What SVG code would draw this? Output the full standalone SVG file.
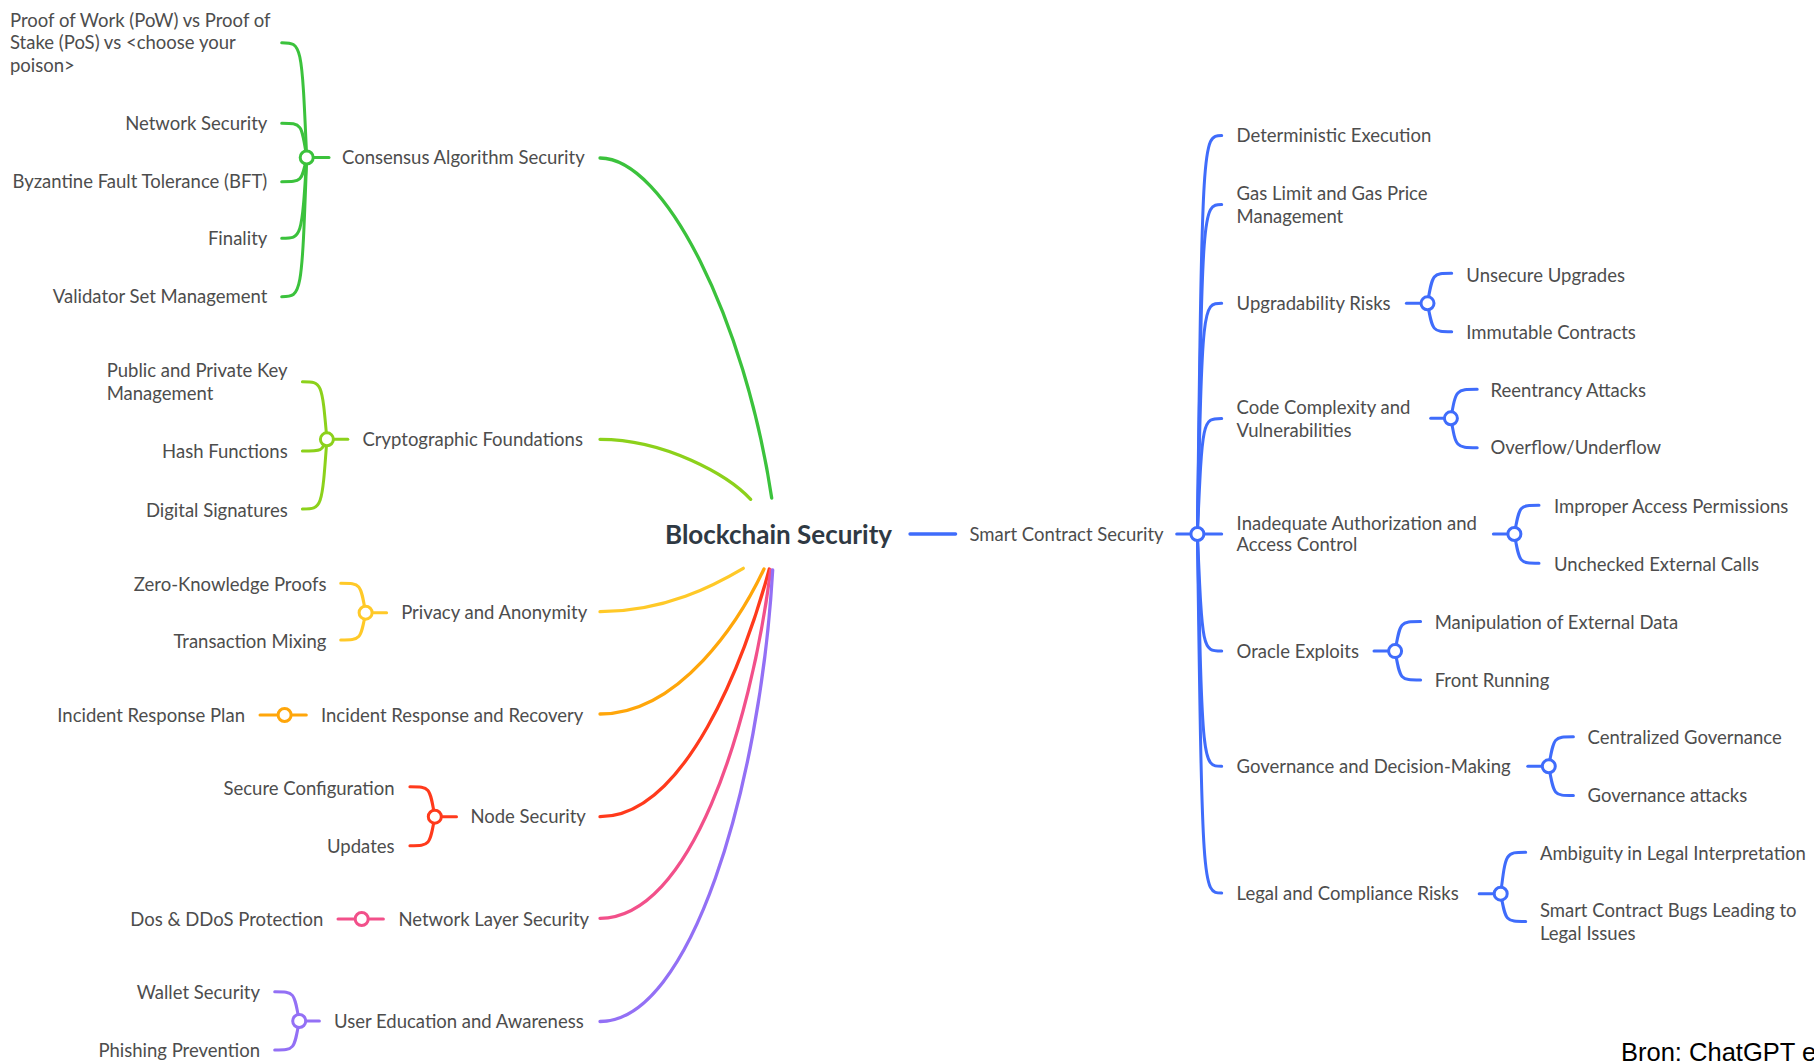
<svg xmlns="http://www.w3.org/2000/svg" width="1814" height="1062" viewBox="0 0 1814 1062">
<style>
  text { font-family: Lato, "Noto Sans", "DejaVu Sans", sans-serif; font-size: 18.5px; fill: #4d4d4d; }
  .end { text-anchor: end; }
  .root { font-size: 26px; font-weight: bold; fill: #2f3943; }
  .src { font-family: "Liberation Sans", Arial, sans-serif; font-size: 25.5px; fill: #000; }
  path, line { fill: none; stroke-linecap: round; stroke-width: 3; }
  .main { stroke-width: 3.3; }
  circle.hub { fill: #fff; stroke-width: 3; }
  .g1 { stroke: #3bc23c; } .g2 { stroke: #8cd11b; } .g3 { stroke: #ffc928; }
  .g4 { stroke: #ffa60a; } .g5 { stroke: #ff3a1c; } .g6 { stroke: #f2508a; }
  .g7 { stroke: #9370f5; } .b { stroke: #3f6cfb; }
</style>
<rect width="1814" height="1062" fill="#fff"/>
<g id="connectors">
  <path class="main g1" d="M600,158 C665,158 745,320 771.7,498"/>
  <path class="main g2" d="M600,439.3 C665,439.3 728,475 750.7,499.3"/>
  <path class="main g3" d="M600,611.7 C665,611.7 715,585 743.3,568.3"/>
  <path class="main g4" d="M600,714 C680,714 740,620 764,569"/>
  <path class="main g5" d="M600,816.7 C685,816.7 745,660 769.3,569"/>
  <path class="main g6" d="M600,918.3 C690,918.3 750,730 770.7,570"/>
  <path class="main g7" d="M600,1021.5 C690,1021.5 760,790 772.7,570"/>
  <line class="main b" x1="910" y1="534" x2="955.6" y2="534"/>
  <g class="g1">
    <path d="M306.7,157.5 C301.7,42.7 301.7,42.7 281.7,42.7"/>
    <path d="M306.7,157.5 C301.7,123.3 301.7,123.3 281.7,123.3"/>
    <path d="M306.7,157.5 C301.7,181.7 301.7,181.7 281.7,181.7"/>
    <path d="M306.7,157.5 C301.7,238.3 301.7,238.3 281.7,238.3"/>
    <path d="M306.7,157.5 C301.7,296.7 301.7,296.7 281.7,296.7"/>
    <line x1="306.7" y1="157.5" x2="329" y2="157.5"/>
  </g>
  <g class="g2">
    <path d="M326.9,439.3 C321.9,381.7 321.9,381.7 302.4,381.7"/>
    <path d="M326.9,439.3 C321.9,451 321.9,451 302.4,451"/>
    <path d="M326.9,439.3 C321.9,509 321.9,509 302.4,509"/>
    <line x1="326.9" y1="439.3" x2="347.8" y2="439.3"/>
  </g>
  <g class="g3">
    <path d="M365.6,612.7 C360.6,583.3 360.6,583.3 340.7,583.3"/>
    <path d="M365.6,612.7 C360.6,640 360.6,640 340.7,640"/>
    <line x1="365.6" y1="612.7" x2="386.6" y2="612.7"/>
  </g>
  <g class="g4">
    <line x1="260" y1="715" x2="306.3" y2="715"/>
  </g>
  <g class="g5">
    <path d="M434.8,816.7 C429.8,786.7 429.8,786.7 409.9,786.7"/>
    <path d="M434.8,816.7 C429.8,845.7 429.8,845.7 409.9,845.7"/>
    <line x1="434.8" y1="816.7" x2="456.5" y2="816.7"/>
  </g>
  <g class="g6">
    <line x1="338" y1="919" x2="383.4" y2="919"/>
  </g>
  <g class="g7">
    <path d="M299.2,1021 C294.2,991.7 294.2,991.7 274.7,991.7"/>
    <path d="M299.2,1021 C294.2,1050 294.2,1050 274.7,1050"/>
    <line x1="299.2" y1="1021" x2="319.4" y2="1021"/>
  </g>
  <g class="b">
    <path d="M1197.4,534 C1202.4,135.5 1202.4,135.5 1221.7,135.5"/>
    <path d="M1197.4,534 C1202.4,204.6 1202.4,204.6 1221.7,204.6"/>
    <path d="M1197.4,534 C1202.4,303.3 1202.4,303.3 1221.7,303.3"/>
    <path d="M1197.4,534 C1202.4,418.5 1202.4,418.5 1221.7,418.5"/>
    <path d="M1197.4,534 C1202.4,651 1202.4,651 1221.7,651"/>
    <path d="M1197.4,534 C1202.4,766.3 1202.4,766.3 1221.7,766.3"/>
    <path d="M1197.4,534 C1202.4,893 1202.4,893 1221.7,893"/>
    <line x1="1176.7" y1="534" x2="1221.7" y2="534"/>
    <path d="M1427.5,303.3 C1432.5,273.3 1432.5,273.3 1451.7,273.3"/>
    <path d="M1427.5,303.3 C1432.5,331.7 1432.5,331.7 1451.7,331.7"/>
    <line x1="1406.4" y1="303.3" x2="1427.5" y2="303.3"/>
    <path d="M1450.9,418.3 C1455.9,389.3 1455.9,389.3 1477.2,389.3"/>
    <path d="M1450.9,418.3 C1455.9,447.7 1455.9,447.7 1477.2,447.7"/>
    <line x1="1430.7" y1="418.3" x2="1450.9" y2="418.3"/>
    <path d="M1514.4,534 C1519.4,505.2 1519.4,505.2 1539,505.2"/>
    <path d="M1514.4,534 C1519.4,563.3 1519.4,563.3 1539,563.3"/>
    <line x1="1493.4" y1="534" x2="1514.4" y2="534"/>
    <path d="M1395.1,651.1 C1400.1,621.5 1400.1,621.5 1420.6,621.5"/>
    <path d="M1395.1,651.1 C1400.1,680 1400.1,680 1420.6,680"/>
    <line x1="1374" y1="651.1" x2="1395.1" y2="651.1"/>
    <path d="M1548.8,766.3 C1553.8,736.7 1553.8,736.7 1573.4,736.7"/>
    <path d="M1548.8,766.3 C1553.8,795.6 1553.8,795.6 1573.4,795.6"/>
    <line x1="1527.8" y1="766.3" x2="1548.8" y2="766.3"/>
    <path d="M1500.7,893.7 C1505.7,852.2 1505.7,852.2 1525.7,852.2"/>
    <path d="M1500.7,893.7 C1505.7,921.5 1505.7,921.5 1525.7,921.5"/>
    <line x1="1479.2" y1="893.7" x2="1500.7" y2="893.7"/>
  </g>
</g>
<g id="hubs">
  <circle class="hub g1" cx="306.7" cy="157.5" r="6.5"/>
  <circle class="hub g2" cx="326.9" cy="439.3" r="6.5"/>
  <circle class="hub g3" cx="365.6" cy="612.7" r="6.5"/>
  <circle class="hub g4" cx="284.6" cy="715" r="6.5"/>
  <circle class="hub g5" cx="434.8" cy="816.7" r="6.5"/>
  <circle class="hub g6" cx="361.7" cy="919" r="6.5"/>
  <circle class="hub g7" cx="299.2" cy="1021" r="6.5"/>
  <circle class="hub b" cx="1197.4" cy="534" r="6.5"/>
  <circle class="hub b" cx="1427.5" cy="303.3" r="6.5"/>
  <circle class="hub b" cx="1450.9" cy="418.3" r="6.5"/>
  <circle class="hub b" cx="1514.4" cy="534" r="6.5"/>
  <circle class="hub b" cx="1395.1" cy="651.1" r="6.5"/>
  <circle class="hub b" cx="1548.8" cy="766.3" r="6.5"/>
  <circle class="hub b" cx="1500.7" cy="893.7" r="6.5"/>
</g>
<g id="node-root"><text class="root" x="665" y="543.5">Blockchain Security</text></g>
<g id="node-consensus"><text x="342" y="164">Consensus Algorithm Security</text></g>
<g id="node-pow"><text x="10" y="26.5">Proof of Work (PoW) vs Proof of</text><text x="10" y="49.2">Stake (PoS) vs &lt;choose your</text><text x="10" y="71.8">poison&gt;</text></g>
<g id="node-netsec"><text class="end" x="267.3" y="129.8">Network Security</text></g>
<g id="node-bft"><text class="end" x="267.3" y="188.2">Byzantine Fault Tolerance (BFT)</text></g>
<g id="node-finality"><text class="end" x="267.3" y="244.8">Finality</text></g>
<g id="node-validator"><text class="end" x="267.3" y="303.2">Validator Set Management</text></g>
<g id="node-crypto"><text x="362.5" y="445.8">Cryptographic Foundations</text></g>
<g id="node-keys"><text x="106.7" y="377.2">Public and Private Key</text><text x="106.7" y="399.8">Management</text></g>
<g id="node-hash"><text class="end" x="287.7" y="458.2">Hash Functions</text></g>
<g id="node-sig"><text class="end" x="287.7" y="516.5">Digital Signatures</text></g>
<g id="node-privacy"><text x="401.2" y="619.2">Privacy and Anonymity</text></g>
<g id="node-zkp"><text class="end" x="326.5" y="590.8">Zero-Knowledge Proofs</text></g>
<g id="node-mixing"><text class="end" x="326.5" y="648.2">Transaction Mixing</text></g>
<g id="node-incident"><text x="321" y="721.5">Incident Response and Recovery</text></g>
<g id="node-irplan"><text class="end" x="245" y="721.5">Incident Response Plan</text></g>
<g id="node-node"><text x="470.4" y="823.2">Node Security</text></g>
<g id="node-config"><text class="end" x="394.5" y="794.8">Secure Configuration</text></g>
<g id="node-updates"><text class="end" x="394.5" y="852.5">Updates</text></g>
<g id="node-netlayer"><text x="398.4" y="925.5">Network Layer Security</text></g>
<g id="node-ddos"><text class="end" x="323.3" y="925.5">Dos &amp; DDoS Protection</text></g>
<g id="node-usered"><text x="334" y="1027.5">User Education and Awareness</text></g>
<g id="node-wallet"><text class="end" x="260" y="999.2">Wallet Security</text></g>
<g id="node-phishing"><text class="end" x="260" y="1056.5">Phishing Prevention</text></g>
<g id="node-smart"><text x="969.5" y="541">Smart Contract Security</text></g>
<g id="node-determ"><text x="1236.6" y="142">Deterministic Execution</text></g>
<g id="node-gas"><text x="1236.6" y="199.8">Gas Limit and Gas Price</text><text x="1236.6" y="222.5">Management</text></g>
<g id="node-upg"><text x="1236.6" y="309.8">Upgradability Risks</text></g>
<g id="node-unsecure"><text x="1466.3" y="281.5">Unsecure Upgrades</text></g>
<g id="node-immutable"><text x="1466.3" y="338.8">Immutable Contracts</text></g>
<g id="node-code"><text x="1236.6" y="413.8">Code Complexity and</text><text x="1236.6" y="436.5">Vulnerabilities</text></g>
<g id="node-reentrancy"><text x="1490.5" y="396.5">Reentrancy Attacks</text></g>
<g id="node-overflow"><text x="1490.5" y="453.5">Overflow/Underflow</text></g>
<g id="node-auth"><text x="1236.6" y="529.8">Inadequate Authorization and</text><text x="1236.6" y="551.3">Access Control</text></g>
<g id="node-improper"><text x="1554" y="512.5">Improper Access Permissions</text></g>
<g id="node-unchecked"><text x="1554" y="570.9">Unchecked External Calls</text></g>
<g id="node-oracle"><text x="1236.6" y="657.6">Oracle Exploits</text></g>
<g id="node-manip"><text x="1434.7" y="629.1">Manipulation of External Data</text></g>
<g id="node-front"><text x="1434.7" y="686.5">Front Running</text></g>
<g id="node-gov"><text x="1236.6" y="772.8">Governance and Decision-Making</text></g>
<g id="node-central"><text x="1587.6" y="744.3">Centralized Governance</text></g>
<g id="node-govattack"><text x="1587.6" y="802.1">Governance attacks</text></g>
<g id="node-legal"><text x="1236.6" y="900.2">Legal and Compliance Risks</text></g>
<g id="node-ambiguity"><text x="1539.9" y="859.8">Ambiguity in Legal Interpretation</text></g>
<g id="node-bugs"><text x="1539.9" y="917.2">Smart Contract Bugs Leading to</text><text x="1539.9" y="939.5">Legal Issues</text></g>
<g id="source"><text class="src" x="1621" y="1060.5">Bron: ChatGPT e</text></g>
</svg>
